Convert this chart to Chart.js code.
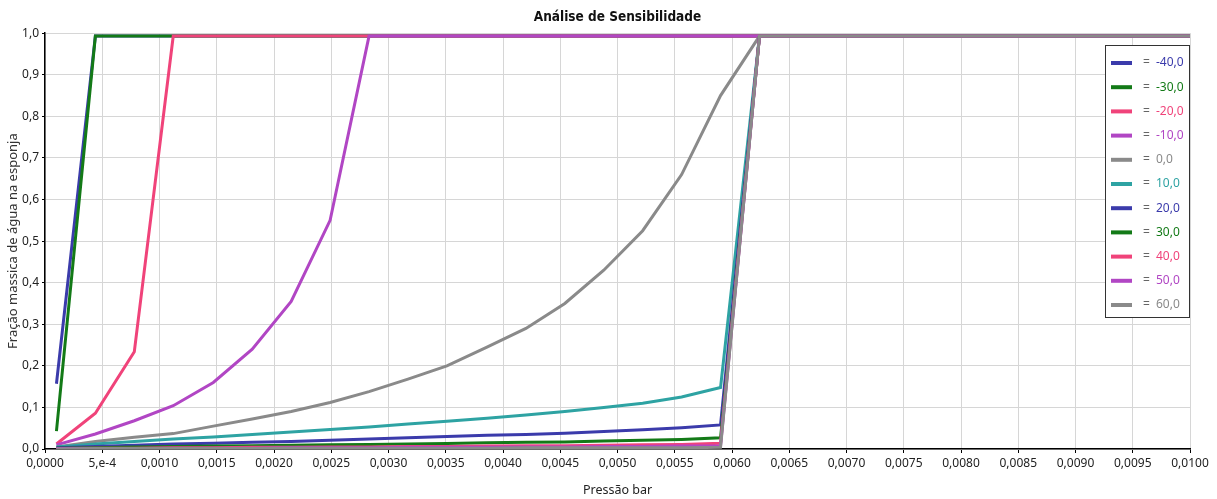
<!DOCTYPE html>
<html>
<head>
<meta charset="utf-8">
<script src="https://cdn.jsdelivr.net/npm/chart.js@4.4.1/dist/chart.umd.min.js"></script>
<style>
    html, body { margin: 0; padding: 0; background: #fff; }
</style>
</head>
<body>
<canvas id="chart" width="1217" height="499"></canvas>
<script>
// Pressure values (bar) shared by every curve
const pressure = [0.0001, 0.00044, 0.00078, 0.00112, 0.00147, 0.00181, 0.00215, 0.00249, 0.00283, 0.00317,
                  0.00351, 0.00386, 0.0042, 0.00454, 0.00488, 0.00522, 0.00556, 0.0059, 0.00624, 0.00659,
                  0.00693, 0.00727, 0.00761, 0.00795, 0.00829, 0.00863, 0.00898, 0.00932, 0.00966, 0.01];

const seriesNames = ['-40,0', '-30,0', '-20,0', '-10,0', '0,0', '10,0', '20,0', '30,0', '40,0', '50,0', '60,0'];

const sM40 = [0.157, 0.993, 0.993, 0.993, 0.993, 0.993, 0.993, 0.993, 0.993, 0.993, 0.993, 0.993, 0.993, 0.993, 0.993,
              0.993, 0.993, 0.993, 0.993, 0.993, 0.993, 0.993, 0.993, 0.993, 0.993, 0.993, 0.993, 0.993, 0.993, 0.993];
const sM30 = [0.043, 0.993, 0.993, 0.993, 0.993, 0.993, 0.993, 0.993, 0.993, 0.993, 0.993, 0.993, 0.993, 0.993, 0.993,
              0.993, 0.993, 0.993, 0.993, 0.993, 0.993, 0.993, 0.993, 0.993, 0.993, 0.993, 0.993, 0.993, 0.993, 0.993];
const sM20 = [0.012, 0.086, 0.234, 0.993, 0.993, 0.993, 0.993, 0.993, 0.993, 0.993, 0.993, 0.993, 0.993, 0.993, 0.993,
              0.993, 0.993, 0.993, 0.993, 0.993, 0.993, 0.993, 0.993, 0.993, 0.993, 0.993, 0.993, 0.993, 0.993, 0.993];
const sM10 = [0.010, 0.036, 0.068, 0.104, 0.160, 0.240, 0.355, 0.550, 0.993, 0.993, 0.993, 0.993, 0.993, 0.993, 0.993,
              0.993, 0.993, 0.993, 0.993, 0.993, 0.993, 0.993, 0.993, 0.993, 0.993, 0.993, 0.993, 0.993, 0.993, 0.993];
const s0   = [0.005, 0.018, 0.028, 0.037, 0.055, 0.072, 0.090, 0.112, 0.138, 0.168, 0.200, 0.245, 0.290, 0.350, 0.430,
              0.525, 0.660, 0.850, 0.993, 0.993, 0.993, 0.993, 0.993, 0.993, 0.993, 0.993, 0.993, 0.993, 0.993, 0.993];
const s10  = [0.005, 0.012, 0.018, 0.024, 0.029, 0.035, 0.041, 0.047, 0.053, 0.060, 0.067, 0.074, 0.082, 0.090, 0.100,
              0.110, 0.125, 0.148, 0.993, 0.993, 0.993, 0.993, 0.993, 0.993, 0.993, 0.993, 0.993, 0.993, 0.993, 0.993];
const s20  = [0.003, 0.006, 0.009, 0.012, 0.014, 0.016, 0.018, 0.021, 0.024, 0.027, 0.030, 0.033, 0.035, 0.038, 0.042,
              0.046, 0.051, 0.058, 0.993, 0.993, 0.993, 0.993, 0.993, 0.993, 0.993, 0.993, 0.993, 0.993, 0.993, 0.993];
const s30  = [0.002, 0.003, 0.005, 0.006, 0.007, 0.008, 0.009, 0.010, 0.011, 0.012, 0.013, 0.015, 0.016, 0.017, 0.019,
              0.021, 0.023, 0.027, 0.993, 0.993, 0.993, 0.993, 0.993, 0.993, 0.993, 0.993, 0.993, 0.993, 0.993, 0.993];
const s40  = [0.001, 0.002, 0.002, 0.003, 0.003, 0.004, 0.004, 0.005, 0.005, 0.006, 0.006, 0.007, 0.008, 0.008, 0.009,
              0.010, 0.011, 0.014, 0.993, 0.993, 0.993, 0.993, 0.993, 0.993, 0.993, 0.993, 0.993, 0.993, 0.993, 0.993];
const s50  = [0.001, 0.001, 0.001, 0.002, 0.002, 0.002, 0.003, 0.003, 0.003, 0.004, 0.004, 0.004, 0.005, 0.005, 0.006,
              0.006, 0.007, 0.008, 0.993, 0.993, 0.993, 0.993, 0.993, 0.993, 0.993, 0.993, 0.993, 0.993, 0.993, 0.993];
const s60  = [0.000, 0.001, 0.001, 0.001, 0.001, 0.001, 0.002, 0.002, 0.002, 0.002, 0.002, 0.002, 0.003, 0.003, 0.003,
              0.003, 0.003, 0.004, 0.993, 0.993, 0.993, 0.993, 0.993, 0.993, 0.993, 0.993, 0.993, 0.993, 0.993, 0.993];

const allSeries = [sM40, sM30, sM20, sM10, s0, s10, s20, s30, s40, s50, s60];

const seriesColors = ['#3b3bab', '#137a17', '#f0437a', '#b146c4', '#8a8a8a', '#2ea3a3',
                      '#3b3bab', '#137a17', '#f0437a', '#b146c4', '#8a8a8a'];

// Axis ticks
const xTickValues = [0, 0.0005, 0.001, 0.0015, 0.002, 0.0025, 0.003, 0.0035, 0.004, 0.0045, 0.005,
                     0.0055, 0.006, 0.0065, 0.007, 0.0075, 0.008, 0.0085, 0.009, 0.0095, 0.01];
const xTickLabels = ['0,0000', '5,e-4', '0,0010', '0,0015', '0,0020', '0,0025', '0,0030', '0,0035', '0,0040',
                     '0,0045', '0,0050', '0,0055', '0,0060', '0,0065', '0,0070', '0,0075', '0,0080', '0,0085',
                     '0,0090', '0,0095', '0,0100'];
const yTickValues = [0, 0.1, 0.2, 0.3, 0.4, 0.5, 0.6, 0.7, 0.8, 0.9, 1.0];
const yTickLabels = ['0,0', '0,1', '0,2', '0,3', '0,4', '0,5', '0,6', '0,7', '0,8', '0,9', '1,0'];

const FONT = "'Noto Sans', 'DejaVu Sans', sans-serif";

// Legend drawn as a boxed list inside the plot, top right
const legendBox = {
    id: 'legendBox',
    afterDraw(chart) {
        const ctx = chart.ctx;
        const area = chart.chartArea;
        const w = 85, h = 273;
        const x0 = area.right - w, y0 = 45;
        ctx.save();
        ctx.fillStyle = '#fff';
        ctx.fillRect(x0, y0, w, h);
        ctx.strokeStyle = '#333';
        ctx.lineWidth = 1;
        ctx.strokeRect(x0 + 0.5, y0 + 0.5, w - 1, h - 1);
        ctx.font = '12px ' + FONT;
        ctx.textBaseline = 'middle';
        seriesNames.forEach((name, i) => {
            const y = y0 + 18 + i * 24.2;
            ctx.strokeStyle = seriesColors[i];
            ctx.lineWidth = 4;
            ctx.beginPath();
            ctx.moveTo(x0 + 6, y);
            ctx.lineTo(x0 + 27, y);
            ctx.stroke();
            ctx.fillStyle = '#666';
            ctx.fillText('=', x0 + 38, y);
            ctx.fillStyle = seriesColors[i];
            ctx.fillText(name, x0 + 51, y);
        });
        ctx.restore();
    }
};

const datasets = allSeries.map((vals, i) => ({
    label: seriesNames[i],
    data: vals.map((v, k) => ({ x: pressure[k], y: v })),
    borderColor: seriesColors[i],
    backgroundColor: seriesColors[i],
    borderWidth: 3,
    pointRadius: 0,
    tension: 0,
    order: allSeries.length - i   // last series drawn on top
}));

new Chart(document.getElementById('chart'), {
    type: 'line',
    data: { datasets: datasets },
    plugins: [legendBox],
    options: {
        responsive: false,
        animation: false,
        layout: { padding: { top: 0, right: 27, bottom: 0, left: 0 } },
        scales: {
            x: {
                type: 'linear',
                min: 0,
                max: 0.01,
                afterBuildTicks: (scale) => { scale.ticks = xTickValues.map(v => ({ value: v })); },
                afterFit: (scale) => { scale.height = 50; },
                ticks: {
                    autoSkip: false,
                    maxRotation: 0,
                    padding: 3,
                    color: '#222',
                    font: { family: FONT, size: 12 },
                    callback: (value, index) => xTickLabels[index]
                },
                grid: { color: '#d6d6d6', tickColor: '#000', tickLength: 4 },
                border: { color: '#000', width: 1.5 },
                title: {
                    display: true,
                    text: 'Pressão bar',
                    color: '#222',
                    font: { family: FONT, size: 12.5 },
                    padding: { top: 0, bottom: 1 }
                }
            },
            y: {
                min: 0,
                max: 1,
                afterBuildTicks: (scale) => { scale.ticks = yTickValues.map(v => ({ value: v })); },
                afterFit: (scale) => { scale.width = 45; },
                ticks: {
                    padding: 3,
                    color: '#222',
                    font: { family: FONT, size: 12 },
                    callback: (value, index) => yTickLabels[index]
                },
                grid: { color: '#d6d6d6', tickColor: '#000', tickLength: 3 },
                border: { color: '#000', width: 1.5 },
                title: {
                    display: true,
                    text: 'Fração massica de água na esponja',
                    color: '#333',
                    font: { family: FONT, size: 13 },
                    padding: { top: 5, bottom: 0 }
                }
            }
        },
        plugins: {
            legend: { display: false },
            tooltip: { enabled: false },
            title: {
                display: true,
                fullSize: false,
                text: 'Análise de Sensibilidade',
                color: '#111',
                font: { family: "'Liberation Sans Narrow', 'DejaVu Sans Condensed', sans-serif", size: 13.5, weight: 'bold' },
                padding: { top: 9, bottom: 8 }
            }
        }
    }
});
</script>
</body>
</html>
